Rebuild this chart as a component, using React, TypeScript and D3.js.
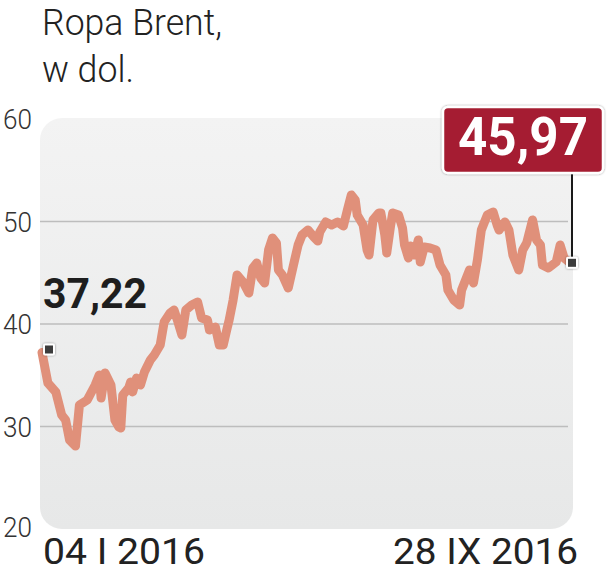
import React from "react";
import * as d3 from "d3";

const dates = [
  "2016-01-04","2016-01-07","2016-01-11","2016-01-14","2016-01-16","2016-01-18","2016-01-21","2016-01-23","2016-01-27","2016-01-31",
  "2016-02-02","2016-02-03","2016-02-05","2016-02-08","2016-02-10","2016-02-12","2016-02-13","2016-02-14","2016-02-17","2016-02-18",
  "2016-02-19","2016-02-21","2016-02-23","2016-02-25","2016-02-28","2016-03-01","2016-03-04","2016-03-06","2016-03-09","2016-03-11",
  "2016-03-13","2016-03-15","2016-03-17","2016-03-20","2016-03-23","2016-03-25","2016-03-28","2016-03-29","2016-04-01","2016-04-03",
  "2016-04-05","2016-04-07","2016-04-08","2016-04-10","2016-04-12","2016-04-15","2016-04-18","2016-04-20","2016-04-22","2016-04-24",
  "2016-04-26","2016-04-28","2016-04-30","2016-05-02","2016-05-03","2016-05-05","2016-05-08","2016-05-11","2016-05-13","2016-05-15",
  "2016-05-18","2016-05-21","2016-05-23","2016-05-24","2016-05-27","2016-05-30","2016-06-02","2016-06-05","2016-06-07","2016-06-09",
  "2016-06-11","2016-06-12","2016-06-15","2016-06-17","2016-06-18","2016-06-20","2016-06-23","2016-06-24","2016-06-26","2016-06-27",
  "2016-06-29","2016-06-30","2016-07-03","2016-07-05","2016-07-06","2016-07-08","2016-07-09","2016-07-11","2016-07-13","2016-07-14",
  "2016-07-16","2016-07-19","2016-07-22","2016-07-24","2016-07-27","2016-07-28","2016-07-31","2016-08-03","2016-08-04","2016-08-06",
  "2016-08-08","2016-08-10","2016-08-12","2016-08-14","2016-08-17","2016-08-20","2016-08-22","2016-08-23","2016-08-26","2016-08-28",
  "2016-08-30","2016-09-02","2016-09-04","2016-09-06","2016-09-09","2016-09-11","2016-09-13","2016-09-14","2016-09-17","2016-09-19",
  "2016-09-21","2016-09-23","2016-09-25","2016-09-28"
];

const prices = [
  37.22,34.24,33.37,31.12,30.63,28.68,28.10,32.10,32.59,34.05,
  35.02,32.78,35.22,34.05,30.63,29.95,29.85,33.07,33.76,34.34,
  33.37,34.73,34.05,35.32,36.49,36.98,37.95,40.20,41.07,41.37,
  40.20,38.93,41.37,41.85,42.15,40.59,40.39,39.41,39.71,37.95,
  37.95,39.61,40.39,42.34,44.78,44.10,43.02,45.46,45.95,44.49,
  44.00,47.22,48.39,47.90,45.27,44.78,43.51,46.05,47.71,48.68,
  49.17,48.49,48.10,48.98,49.95,49.66,49.95,49.56,51.12,52.59,
  52.10,50.63,49.66,47.22,46.73,50.15,50.83,50.83,48.68,46.93,
  49.66,50.83,50.63,49.37,47.71,46.44,47.61,46.73,48.20,46.05,
  47.51,47.41,47.22,45.76,44.78,43.32,42.34,41.85,43.32,44.29,
  45.27,44.00,46.24,49.17,50.63,50.93,49.66,49.17,49.95,49.17,
  46.73,45.27,47.22,47.90,50.15,48.20,47.71,45.76,45.46,45.76,
  46.05,47.71,46.44,45.97
];

const yTicks = [20, 30, 40, 50, 60];
const gridValues = [30, 40, 50];
const titleLines = ["Ropa Brent,", "w dol."];
const startLabel = "04 I 2016";
const endLabel = "28 IX 2016";
const formatPl = (v: number) => v.toFixed(2).replace(".", ",");

const W = 615;
const H = 572;

export default function App() {
  const parse = d3.timeParse("%Y-%m-%d");
  const data = dates.map((d, i) => ({ date: parse(d) as Date, value: prices[i] }));

  const x = d3
    .scaleTime()
    .domain(d3.extent(data, (d) => d.date) as [Date, Date])
    .range([42, 570]);
  const y = d3.scaleLinear().domain([20, 60]).range([529, 119]);

  const line = d3
    .line<{ date: Date; value: number }>()
    .x((d) => x(d.date))
    .y((d) => y(d.value));

  const first = data[0];
  const last = data[data.length - 1];
  const sx = x(first.date) + 7;
  const sy = y(first.value) - 3;
  const ex = x(last.date) + 2;
  const ey = y(last.value);

  const panelX = 40;
  const panelR = 573;
  const panelTop = y(60) - 1;
  const panelBottom = y(20);

  const lightFont = "Roboto, 'Open Sans', sans-serif";

  return (
    <svg
      width={W}
      height={H}
      viewBox={`0 0 ${W} ${H}`}
      style={{ position: "absolute", left: 0, top: 0, background: "#fff" }}
    >
      <defs>
        <linearGradient id="panelGrad" x1="0" y1="0" x2="0" y2="1">
          <stop offset="0%" stopColor="#f3f3f3" />
          <stop offset="100%" stopColor="#e7e8e8" />
        </linearGradient>
        <filter id="shadow" x="-30%" y="-30%" width="160%" height="160%">
          <feDropShadow dx="0" dy="0" stdDeviation="1.2" floodColor="#000" floodOpacity="0.45" />
        </filter>
      </defs>

      {/* title */}
      {titleLines.map((t, i) => (
        <text
          key={t}
          x={42}
          y={35 + i * 47}
          fontFamily={lightFont}
          fontWeight={300}
          fontSize={37}
          fill="#222"
          textLength={i === 0 ? 180 : 92}
          lengthAdjust="spacingAndGlyphs"
        >
          {t}
        </text>
      ))}

      {/* panel */}
      <rect
        x={panelX}
        y={panelTop}
        width={panelR - panelX}
        height={panelBottom - panelTop}
        rx={22}
        ry={22}
        fill="url(#panelGrad)"
      />

      {/* gridlines */}
      {gridValues.map((v) => (
        <line
          key={v}
          x1={panelX}
          x2={568}
          y1={y(v)}
          y2={y(v)}
          stroke="#bdbdbd"
          strokeWidth={1.6}
        />
      ))}

      {/* y tick labels */}
      {yTicks.map((v) => (
        <text
          key={v}
          x={3}
          y={y(v) + (v === 20 ? -1 : 1)}
          dominantBaseline="central"
          fontFamily={lightFont}
          fontWeight={300}
          fontSize={27}
          fill="#333"
          textLength={29}
          lengthAdjust="spacingAndGlyphs"
        >
          {v}
        </text>
      ))}

      {/* data line */}
      <path
        d={line(data) || ""}
        fill="none"
        stroke="#e0907a"
        strokeWidth={9}
        strokeLinejoin="round"
        strokeLinecap="round"
      />

      {/* start label */}
      <text
        x={43}
        y={308}
        fontFamily="Roboto, sans-serif"
        fontWeight={700}
        fontSize={43}
        fill="#1e1e1e"
        textLength={104}
        lengthAdjust="spacingAndGlyphs"
      >
        {formatPl(first.value)}
      </text>

      {/* end label leader */}
      <line x1={ex} x2={ex} y1={172} y2={ey} stroke="#1a1a1a" strokeWidth={2} />

      {/* end label box */}
      <rect
        x={443}
        y={107}
        width={160}
        height={66}
        rx={5}
        fill="#a51d31"
        stroke="#fff"
        strokeWidth={2.5}
        filter="url(#shadow)"
      />
      <text
        x={458}
        y={155}
        fontFamily="Roboto, sans-serif"
        fontWeight={700}
        fontSize={53}
        fill="#fff"
        textLength={130}
        lengthAdjust="spacingAndGlyphs"
      >
        {formatPl(last.value)}
      </text>

      {/* markers */}
      {[
        [sx, sy],
        [ex, ey],
      ].map(([mx, my], i) => (
        <g key={i}>
          <rect
            x={mx - 6}
            y={my - 6}
            width={12}
            height={12}
            rx={2}
            fill="#fff"
            filter="url(#shadow)"
          />
          <rect x={mx - 4} y={my - 4} width={8} height={8} fill="#3c3c3c" />
        </g>
      ))}

      {/* date labels */}
      <text
        x={43}
        y={564}
        fontFamily={lightFont}
        fontWeight={400}
        fontSize={37}
        fill="#222"
        textLength={162}
        lengthAdjust="spacingAndGlyphs"
      >
        {startLabel}
      </text>
      <text
        x={393}
        y={564}
        fontFamily={lightFont}
        fontWeight={400}
        fontSize={37}
        fill="#222"
        textLength={185}
        lengthAdjust="spacingAndGlyphs"
      >
        {endLabel}
      </text>
    </svg>
  );
}
